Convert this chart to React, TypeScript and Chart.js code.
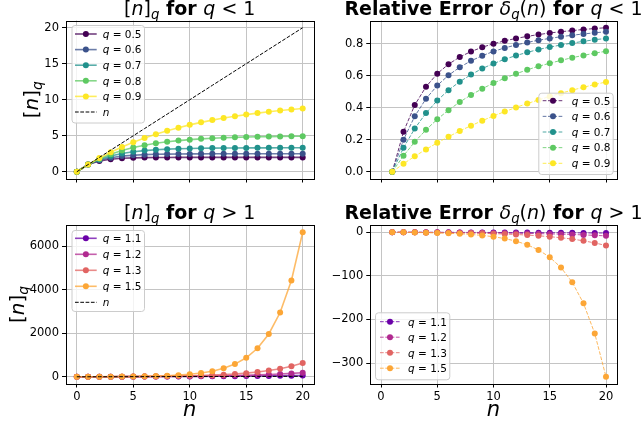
import { useEffect, useRef } from "react";
import { Chart, registerables } from "chart.js";
Chart.register(...registerables);

// ---------------- data ----------------
const N_VALUES = [0, 1, 2, 3, 4, 5, 6, 7, 8, 9, 10, 11, 12, 13, 14, 15, 16, 17, 18, 19, 20];
const N_ERR = [1, 2, 3, 4, 5, 6, 7, 8, 9, 10, 11, 12, 13, 14, 15, 16, 17, 18, 19, 20];

const Q_LESS = ["0.5", "0.6", "0.7", "0.8", "0.9"];
const Q_GREATER = ["1.1", "1.2", "1.3", "1.5"];

const QNUM_05 = [0, 1, 1.5, 1.75, 1.875, 1.938, 1.969, 1.984, 1.992, 1.996, 1.998, 1.999, 2.0, 2.0, 2.0, 2.0, 2.0, 2.0, 2.0, 2.0, 2.0];
const QNUM_06 = [0, 1, 1.6, 1.96, 2.176, 2.306, 2.383, 2.43, 2.458, 2.475, 2.485, 2.491, 2.495, 2.497, 2.498, 2.499, 2.499, 2.5, 2.5, 2.5, 2.5];
const QNUM_07 = [0, 1, 1.7, 2.19, 2.533, 2.773, 2.941, 3.059, 3.141, 3.199, 3.239, 3.267, 3.287, 3.301, 3.311, 3.318, 3.322, 3.326, 3.328, 3.33, 3.331];
const QNUM_08 = [0, 1, 1.8, 2.44, 2.952, 3.362, 3.689, 3.951, 4.161, 4.329, 4.463, 4.571, 4.656, 4.725, 4.78, 4.824, 4.859, 4.887, 4.91, 4.928, 4.942];
const QNUM_09 = [0, 1, 1.9, 2.71, 3.439, 4.095, 4.686, 5.217, 5.695, 6.126, 6.513, 6.862, 7.176, 7.458, 7.712, 7.941, 8.147, 8.332, 8.499, 8.649, 8.784];

const ERR_05 = [0, 0.25, 0.417, 0.531, 0.613, 0.672, 0.717, 0.751, 0.778, 0.8, 0.818, 0.833, 0.846, 0.857, 0.867, 0.875, 0.882, 0.889, 0.895, 0.9];
const ERR_06 = [0, 0.2, 0.347, 0.456, 0.539, 0.603, 0.653, 0.693, 0.725, 0.752, 0.774, 0.792, 0.808, 0.822, 0.833, 0.844, 0.853, 0.861, 0.868, 0.875];
const ERR_07 = [0, 0.15, 0.27, 0.367, 0.445, 0.51, 0.563, 0.607, 0.645, 0.676, 0.703, 0.726, 0.746, 0.764, 0.779, 0.792, 0.804, 0.815, 0.825, 0.833];
const ERR_08 = [0, 0.1, 0.187, 0.262, 0.328, 0.385, 0.436, 0.48, 0.519, 0.554, 0.585, 0.612, 0.637, 0.659, 0.678, 0.696, 0.713, 0.727, 0.741, 0.753];
const ERR_09 = [0, 0.05, 0.097, 0.14, 0.181, 0.219, 0.255, 0.288, 0.319, 0.349, 0.376, 0.402, 0.426, 0.449, 0.471, 0.491, 0.51, 0.528, 0.545, 0.561];

const QNUM_11 = [0, 1, 2.1, 3.31, 4.641, 6.105, 7.716, 9.487, 11.44, 13.58, 15.94, 18.53, 21.38, 24.52, 27.97, 31.77, 35.95, 40.54, 45.6, 51.16, 57.27];
const QNUM_12 = [0, 1, 2.2, 3.64, 5.368, 7.442, 9.93, 12.92, 16.5, 20.8, 25.96, 32.15, 39.58, 48.5, 59.2, 72.04, 87.44, 105.9, 128.1, 154.7, 186.7];
const QNUM_13 = [0, 1, 2.3, 3.99, 6.187, 9.043, 12.76, 17.58, 23.86, 32.02, 42.62, 56.41, 74.33, 97.63, 127.9, 167.3, 218.5, 285.0, 371.5, 484.0, 630.2];
const QNUM_15 = [0, 1, 2.5, 4.75, 8.125, 13.19, 20.78, 32.17, 49.26, 74.89, 113.3, 171.0, 257.5, 387.2, 581.9, 873.8, 1311.7, 1968.5, 2953.8, 4431.7, 6648.5];

const ERR_11 = [0, -0.05, -0.103, -0.16, -0.221, -0.286, -0.355, -0.43, -0.509, -0.594, -0.685, -0.782, -0.886, -0.998, -1.118, -1.247, -1.385, -1.533, -1.693, -1.864];
const ERR_12 = [0, -0.1, -0.213, -0.342, -0.488, -0.655, -0.845, -1.062, -1.311, -1.596, -1.923, -2.298, -2.731, -3.228, -3.802, -4.465, -5.231, -6.118, -7.144, -8.334];
const ERR_13 = [0, -0.15, -0.33, -0.547, -0.809, -1.126, -1.512, -1.982, -2.557, -3.262, -4.128, -5.194, -6.51, -8.137, -10.15, -12.65, -15.77, -19.64, -24.47, -30.51];
const ERR_15 = [0, -0.25, -0.583, -1.031, -1.638, -2.464, -3.596, -5.157, -7.321, -10.33, -14.55, -20.46, -28.79, -40.56, -57.25, -80.98, -114.8, -163.1, -232.2, -331.4];

const X_TICKS = [0, 5, 10, 15, 20];
const X_TICK_LABELS = ["0", "5", "10", "15", "20"];
const Y_TICKS_TL = [0, 5, 10, 15, 20];
const Y_TICK_LABELS_TL = ["0", "5", "10", "15", "20"];
const Y_TICKS_TR = [0, 0.2, 0.4, 0.6, 0.8];
const Y_TICK_LABELS_TR = ["0.0", "0.2", "0.4", "0.6", "0.8"];
const Y_TICKS_BL = [0, 2000, 4000, 6000];
const Y_TICK_LABELS_BL = ["0", "2000", "4000", "6000"];
const Y_TICKS_BR = [0, -100, -200, -300];
const Y_TICK_LABELS_BR = ["0", "\u2212100", "\u2212200", "\u2212300"];

// ---------------- styles ----------------
const VIRIDIS = ["#440154", "#3b528b", "#21918c", "#5ec962", "#fde725"];
const PLASMA = ["#6a00a8", "#b12a90", "#e16462", "#fca636"];
const FONT = '"DejaVu Sans", sans-serif';
const GRID = "#c4c4c4";
const DASH = [3.7, 1.6];
const MARKER_R = 3;

type Seg = { t: string; s?: "n" | "i" | "b"; k?: number; dy?: number };

function segFont(g: Seg, size: number) {
  const sz = size * (g.k || 1);
  const st = g.s === "i" ? "italic " : "";
  const w = g.s === "b" ? "bold " : "";
  return `${st}${w}${sz}px ${FONT}`;
}
function drawRich(ctx: CanvasRenderingContext2D, segs: Seg[], x: number, y: number, size: number, align: "left" | "center") {
  let total = 0;
  const widths = segs.map((g) => {
    ctx.font = segFont(g, size);
    const w = ctx.measureText(g.t).width;
    total += w;
    return w;
  });
  let cx = align === "center" ? x - total / 2 : x;
  ctx.textAlign = "left";
  ctx.textBaseline = "alphabetic";
  segs.forEach((g, i) => {
    ctx.font = segFont(g, size);
    ctx.fillText(g.t, cx, y + (g.dy || 0) * size);
    cx += widths[i];
  });
}

function withAlpha(hex: string, a: number) {
  const r = parseInt(hex.slice(1, 3), 16);
  const g = parseInt(hex.slice(3, 5), 16);
  const b = parseInt(hex.slice(5, 7), 16);
  return `rgba(${r},${g},${b},${a})`;
}

type Series = { label: Seg[]; x: number[]; y: number[]; color: string; lineAlpha: number; lw: number; dash: number[]; marker: boolean };

const qLabel = (q: string): Seg[] => [{ t: "q", s: "i" }, { t: " = " }, { t: q }];
const nLabel: Seg[] = [{ t: "n", s: "i" }];

const TL_Y = [QNUM_05, QNUM_06, QNUM_07, QNUM_08, QNUM_09];
const TR_Y = [ERR_05, ERR_06, ERR_07, ERR_08, ERR_09];
const BL_Y = [QNUM_11, QNUM_12, QNUM_13, QNUM_15];
const BR_Y = [ERR_11, ERR_12, ERR_13, ERR_15];

const seriesTL: Series[] = [
  ...Q_LESS.map((q, i) => ({ label: qLabel(q), x: N_VALUES, y: TL_Y[i], color: VIRIDIS[i], lineAlpha: 0.75, lw: 1.6, dash: [], marker: true })),
  { label: nLabel, x: N_VALUES, y: N_VALUES, color: "#000000", lineAlpha: 1, lw: 1, dash: DASH, marker: false },
];
const seriesTR: Series[] = Q_LESS.map((q, i) => ({ label: qLabel(q), x: N_ERR, y: TR_Y[i], color: VIRIDIS[i], lineAlpha: 0.8, lw: 1, dash: DASH, marker: true }));
const seriesBL: Series[] = [
  ...Q_GREATER.map((q, i) => ({ label: qLabel(q), x: N_VALUES, y: BL_Y[i], color: PLASMA[i], lineAlpha: 0.75, lw: 1.6, dash: [], marker: true })),
  { label: nLabel, x: N_VALUES, y: N_VALUES, color: "#000000", lineAlpha: 1, lw: 1, dash: DASH, marker: false },
];
const seriesBR: Series[] = Q_GREATER.map((q, i) => ({ label: qLabel(q), x: N_ERR, y: BR_Y[i], color: PLASMA[i], lineAlpha: 0.8, lw: 1, dash: DASH, marker: true }));

const titleLess: Seg[] = [{ t: "[" }, { t: "n", s: "i" }, { t: "]" }, { t: "q", s: "i", k: 0.7, dy: 0.22 }, { t: " for ", s: "b" }, { t: "q", s: "i" }, { t: " < " }, { t: "1" }];
const titleGreater: Seg[] = [{ t: "[" }, { t: "n", s: "i" }, { t: "]" }, { t: "q", s: "i", k: 0.7, dy: 0.22 }, { t: " for ", s: "b" }, { t: "q", s: "i" }, { t: " > " }, { t: "1" }];
const errLess: Seg[] = [{ t: "Relative Error ", s: "b" }, { t: "\u03b4", s: "i" }, { t: "q", s: "i", k: 0.7, dy: 0.22 }, { t: "(" }, { t: "n", s: "i" }, { t: ")" }, { t: " for ", s: "b" }, { t: "q", s: "i" }, { t: " < " }, { t: "1" }];
const errGreater: Seg[] = [{ t: "Relative Error ", s: "b" }, { t: "\u03b4", s: "i" }, { t: "q", s: "i", k: 0.7, dy: 0.22 }, { t: "(" }, { t: "n", s: "i" }, { t: ")" }, { t: " for ", s: "b" }, { t: "q", s: "i" }, { t: " > " }, { t: "1" }];
const yLabelSegs: Seg[] = [{ t: "[" }, { t: "n", s: "i" }, { t: "]" }, { t: "q", s: "i", k: 0.7, dy: 0.22 }];
const xLabelSegs: Seg[] = [{ t: "n", s: "i" }];

type Panel = {
  left: number; top: number; w: number; h: number;
  area: { l: number; r: number; t: number; b: number };
  series: Series[]; title: Seg[];
  yTicks: number[]; yLabels: string[];
  showX: boolean; yLabelX: number | null;
  legend: { x: number; y: number; w: number; h: number; y0: number; dy: number; l0: number; l1: number; tx: number };
};

const PANELS: Panel[] = [
  { left: 0, top: 0, w: 321, h: 200, area: { l: 65.5, r: 314, t: 20.5, b: 179 }, series: seriesTL, title: titleLess, yTicks: Y_TICKS_TL, yLabels: Y_TICK_LABELS_TL, showX: false, yLabelX: 37.5,
    legend: { x: 71.5, y: 25, w: 72.5, h: 97.5, y0: 34, dy: 15.6, l0: 75, l1: 96.7, tx: 102.7 } },
  { left: 321, top: 0, w: 321, h: 200, area: { l: 48.75, r: 296.25, t: 20.5, b: 179 }, series: seriesTR, title: errLess, yTicks: Y_TICKS_TR, yLabels: Y_TICK_LABELS_TR, showX: false, yLabelX: null,
    legend: { x: 217.3, y: 92.7, w: 74.4, h: 81.3, y0: 100.7, dy: 15.65, l0: 221.7, l1: 242.3, tx: 250.7 } },
  { left: 0, top: 200, w: 321, h: 225, area: { l: 65.5, r: 314, t: 25, b: 184 }, series: seriesBL, title: titleGreater, yTicks: Y_TICKS_BL, yLabels: Y_TICK_LABELS_BL, showX: true, yLabelX: 23.5,
    legend: { x: 71.5, y: 30, w: 72.5, h: 81, y0: 38.3, dy: 16, l0: 75, l1: 96.7, tx: 102.7 } },
  { left: 321, top: 200, w: 321, h: 225, area: { l: 48.75, r: 296.25, t: 25, b: 184 }, series: seriesBR, title: errGreater, yTicks: Y_TICKS_BR, yLabels: Y_TICK_LABELS_BR, showX: true, yLabelX: null,
    legend: { x: 54, y: 112.3, w: 74.3, h: 67, y0: 121.7, dy: 15.5, l0: 59, l1: 79, tx: 87 } },
];

function dataRange(vals: number[]) {
  const mn = Math.min(...vals);
  const mx = Math.max(...vals);
  const m = (mx - mn) * 0.05;
  return [mn - m, mx + m];
}

function makeChart(canvas: HTMLCanvasElement, p: Panel) {
  const [xMin, xMax] = dataRange(N_VALUES);
  const [yMin, yMax] = dataRange(p.series.flatMap((s) => s.y));
  const tickFont = { family: FONT, size: 11.5 };
  const n = p.series.length;
  const datasets = p.series.map((s, i) => ({
    data: s.x.map((x, j) => ({ x, y: s.y[j] })),
    borderColor: withAlpha(s.color, s.lineAlpha),
    borderWidth: s.lw,
    borderDash: s.dash,
    pointRadius: s.marker ? MARKER_R : 0,
    pointHoverRadius: 0,
    pointBackgroundColor: s.color,
    pointBorderColor: s.color,
    pointBorderWidth: 0,
    tension: 0,
    fill: false,
    order: n - i,
  }));

  const decor = {
    id: "decor",
    afterDraw(chart: any) {
      const ctx: CanvasRenderingContext2D = chart.ctx;
      const a = chart.chartArea;
      ctx.save();
      // frame
      ctx.strokeStyle = "#000";
      ctx.lineWidth = 1;
      ctx.setLineDash([]);
      ctx.strokeRect(Math.round(a.left) + 0.5, Math.round(a.top) + 0.5, Math.round(a.right) - Math.round(a.left), Math.round(a.bottom) - Math.round(a.top));
      // legend
      const L = p.legend;
      ctx.beginPath();
      ctx.roundRect(L.x + 0.5, L.y + 0.5, L.w, L.h, 3);
      ctx.fillStyle = "rgba(255,255,255,0.8)";
      ctx.fill();
      ctx.strokeStyle = "#cccccc";
      ctx.stroke();
      p.series.forEach((s, i) => {
        const y = L.y0 + i * L.dy;
        ctx.beginPath();
        ctx.setLineDash(s.dash);
        ctx.strokeStyle = withAlpha(s.color, s.lineAlpha);
        ctx.lineWidth = s.lw;
        ctx.moveTo(L.l0, y);
        ctx.lineTo(L.l1, y);
        ctx.stroke();
        ctx.setLineDash([]);
        if (s.marker) {
          ctx.beginPath();
          ctx.fillStyle = s.color;
          ctx.arc((L.l0 + L.l1) / 2, y, MARKER_R, 0, Math.PI * 2);
          ctx.fill();
        }
        ctx.fillStyle = "#000";
        drawRich(ctx, s.label, L.tx, y + 3.8, 10.5, "left");
      });
      // title
      ctx.fillStyle = "#000";
      drawRich(ctx, p.title, (a.left + a.right) / 2, a.top - 6, 19, "center");
      // y label
      if (p.yLabelX !== null) {
        ctx.save();
        ctx.translate(p.yLabelX, (a.top + a.bottom) / 2);
        ctx.rotate(-Math.PI / 2);
        drawRich(ctx, yLabelSegs, 0, 0, 20, "center");
        ctx.restore();
      }
      if (p.showX) {
        drawRich(ctx, xLabelSegs, (a.left + a.right) / 2, 216, 21, "center");
      }
      ctx.restore();
    },
  };

  return new Chart(canvas, {
    type: "line",
    data: { datasets },
    options: {
      animation: false,
      responsive: false,
      maintainAspectRatio: false,
      events: [],
      layout: { padding: { left: 0, top: p.area.t, right: p.w - p.area.r, bottom: 0 } },
      plugins: { legend: { display: false }, tooltip: { enabled: false }, title: { display: false } },
      scales: {
        x: {
          type: "linear",
          min: xMin,
          max: xMax,
          afterBuildTicks: (sc: any) => { sc.ticks = X_TICKS.map((v) => ({ value: v })); },
          afterFit: (sc: any) => { sc.height = p.h - p.area.b; },
          ticks: { display: p.showX, autoSkip: false, maxRotation: 0, padding: 2.5, color: "#000", font: tickFont,
            callback: (v: any) => X_TICK_LABELS[X_TICKS.indexOf(v)] ?? "" },
          grid: { color: GRID, lineWidth: 1, drawTicks: true, tickLength: 3.5, tickColor: "#000", tickWidth: 1 },
          border: { display: false },
        },
        y: {
          type: "linear",
          min: yMin,
          max: yMax,
          afterBuildTicks: (sc: any) => { sc.ticks = p.yTicks.map((v) => ({ value: v })); },
          afterFit: (sc: any) => { sc.width = p.area.l; },
          ticks: { autoSkip: false, padding: 3, color: "#000", font: tickFont,
            callback: (v: any) => p.yLabels[p.yTicks.indexOf(v)] ?? "" },
          grid: { color: GRID, lineWidth: 1, drawTicks: true, tickLength: 3.5, tickColor: "#000", tickWidth: 1 },
          border: { display: false },
        },
      },
    } as any,
    plugins: [decor],
  });
}

function PanelCanvas({ p }: { p: Panel }) {
  const ref = useRef<HTMLCanvasElement>(null);
  useEffect(() => {
    if (!ref.current) return;
    const c = makeChart(ref.current, p);
    return () => c.destroy();
  }, [p]);
  return <canvas ref={ref} width={p.w} height={p.h} style={{ position: "absolute", left: p.left, top: p.top, width: p.w, height: p.h }} />;
}

export default function App() {
  return (
    <div style={{ position: "absolute", left: 0, top: 0, width: 642, height: 425, background: "#fff", overflow: "hidden" }}>
      {PANELS.map((p, i) => (
        <PanelCanvas key={i} p={p} />
      ))}
    </div>
  );
}
